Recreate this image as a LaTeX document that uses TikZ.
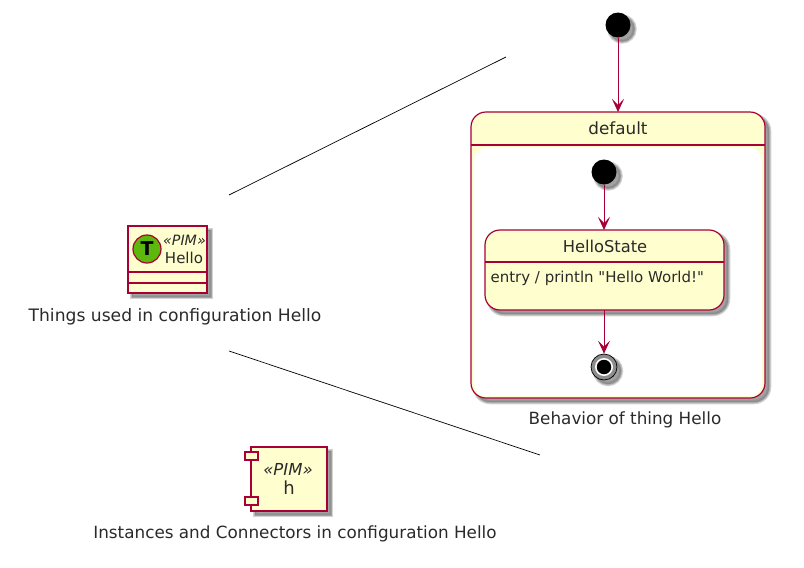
\documentclass[tikz,border=0pt]{standalone}
\usepackage{fontspec}
\setmainfont{DejaVu Sans}
\newfontfamily\plainfont{DejaVu Sans}
\usetikzlibrary{arrows.meta}
\definecolor{umlfill}{HTML}{FEFECE}
\definecolor{umlline}{HTML}{A80036}
\definecolor{umlshadow}{HTML}{808080}
\definecolor{umlgreen}{HTML}{5CB80C}
\definecolor{umltext}{HTML}{2A2A2A}
\tikzset{
  shadelayer/.style={preaction={transform canvas={xshift=4pt,yshift=-4pt},draw=umlshadow,fill=umlshadow,line width=#1,draw opacity=.35,fill opacity=.35}},
  umlshade/.style={shadelayer=4.5pt,shadelayer=2.5pt,shadelayer=0.8pt},
  umlbox/.style={draw=umlline,fill=umlfill,line width=1.2pt,umlshade},
  divider/.style={draw=umlline,line width=1.2pt},
  startdot/.style={circle,fill=black,minimum size=25pt,inner sep=0pt,umlshade},
  flow/.style={draw=umlline,line width=1pt,-{Stealth[length=13pt,width=12pt,inset=6pt]}},
  note/.style={line width=0.7pt,black},
  caption/.style={text=umltext,font=\fontsize{16.8}{20}\selectfont},
  small/.style={text=umltext,font=\fontsize{15}{18}\selectfont},
  stereo/.style={text=umltext,font=\itshape\fontsize{14.2}{16}\selectfont},
}
\begin{document}
\begin{tikzpicture}[x=1pt,y=-1pt]
  \useasboundingbox (0,0) rectangle (804,568);

  % free ends of the two lines
  \coordinate (thingsUp) at (229,195);
  \coordinate (behaviorEnd) at (506,57);
  \coordinate (thingsDown) at (229,351);
  \coordinate (instancesEnd) at (540,455);
  \draw[note] (thingsUp) -- (behaviorEnd);
  \draw[note] (thingsDown) -- (instancesEnd);

  % class Hello
  \draw[umlbox] (128,226) rectangle (207,293);
  \draw[divider] (128,272) -- (207,272);
  \draw[divider] (128,283) -- (207,283);
  \node[circle,draw=umlline,fill=umlgreen,line width=1.2pt,minimum size=28pt,inner sep=0pt,font=\bfseries\fontsize{19}{19}\selectfont] (classT) at (147,249) {T};
  \node[stereo] (classStereo) at (184.5,240) {«PIM»};
  \node[small] (className) at (184,258) {Hello};
  \node[caption,font=\fontsize{17.15}{20}\selectfont] (thingsLabel) at (175,317) {Things used in configuration Hello};

  % component h
  \draw[umlbox] (251,447) rectangle (327,511);
  \draw[divider,fill=umlfill] (245,452) rectangle (258,460);
  \draw[divider,fill=umlfill] (245,497) rectangle (258,505);
  \node[stereo,font=\itshape\fontsize{16.5}{18}\selectfont] (compStereo) at (288,469) {«PIM»};
  \node[caption,font=\fontsize{18}{20}\selectfont] (compName) at (289,488) {h};
  \node[caption] (instancesLabel) at (295,534) {Instances and Connectors in configuration Hello};

  % state default
  \node[startdot] (outerStart) at (618,25) {};
  \draw[umlbox,rounded corners=15pt] (471,112) rectangle (765,398);
  \fill[white,rounded corners=12pt] (474,148) rectangle (762,396);
  \draw[divider] (471,145) -- (765,145);
  \node[caption] (defaultName) at (618,128) {default};
  \coordinate (defaultTop) at (618,112);
  \draw[flow] (outerStart) -- (defaultTop);

  % state HelloState
  \node[startdot] (innerStart) at (604,172) {};
  \draw[umlbox,rounded corners=15pt] (485,230) rectangle (724,310);
  \draw[divider] (485,262) -- (724,262);
  \node[caption,font=\fontsize{16.3}{20}\selectfont] (helloName) at (605,246) {HelloState};
  \node[small,font=\plainfont\fontsize{15}{18}\selectfont,anchor=west] (helloEntry) at (487,278) {entry / println "Hello World!"};
  \coordinate (helloTop) at (604,230);
  \coordinate (helloBottom) at (604,310);
  \draw[flow] (innerStart) -- (helloTop);

  % end state
  \node[circle,draw=black,fill=black!45,line width=0.7pt,minimum size=26pt,inner sep=0pt,umlshade] (innerEnd) at (604,367) {};
  \node[circle,fill=white,minimum size=18pt,inner sep=0pt] (endRing) at (innerEnd) {};
  \node[circle,fill=black,minimum size=14.5pt,inner sep=0pt] (endDot) at (innerEnd) {};
  \draw[flow] (helloBottom) -- (innerEnd);
  \node[caption] (behaviorLabel) at (625,420) {Behavior of thing Hello};
\end{tikzpicture}
\end{document}
